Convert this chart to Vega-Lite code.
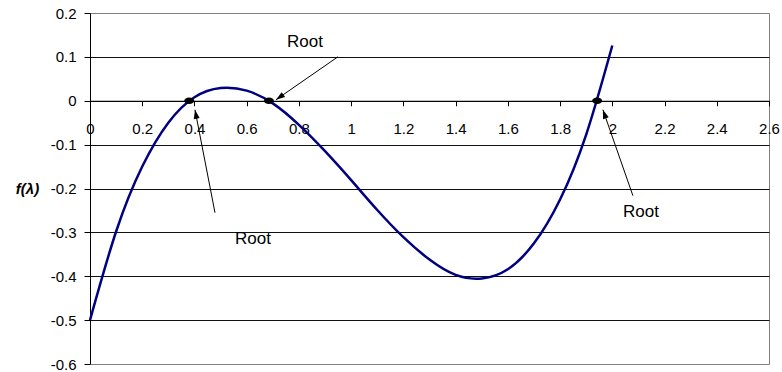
{
  "$schema": "https://vega.github.io/schema/vega-lite/v6.json",
  "width": 679,
  "height": 351,
  "autosize": {"type": "none"},
  "padding": {"left": 90, "top": 13, "right": 13, "bottom": 8},
  "background": "white",
  "config": {
    "view": {"stroke": "#808080", "strokeWidth": 1},
    "font": "Liberation Sans",
    "axis": {"labelFont": "Liberation Sans", "labelColor": "#000", "titleFont": "Liberation Sans", "titleColor": "#000"}
  },
  "datasets": {
    "curve": [
      {"lambda": 0.0, "f": -0.5},
      {"lambda": 0.1, "f": -0.298},
      {"lambda": 0.2, "f": -0.150},
      {"lambda": 0.3, "f": -0.050},
      {"lambda": 0.4, "f": 0.008},
      {"lambda": 0.5, "f": 0.029},
      {"lambda": 0.6, "f": 0.023},
      {"lambda": 0.7, "f": -0.006},
      {"lambda": 0.8, "f": -0.055},
      {"lambda": 0.9, "f": -0.115},
      {"lambda": 1.0, "f": -0.181},
      {"lambda": 1.1, "f": -0.249},
      {"lambda": 1.2, "f": -0.311},
      {"lambda": 1.3, "f": -0.362},
      {"lambda": 1.4, "f": -0.397},
      {"lambda": 1.5, "f": -0.405},
      {"lambda": 1.6, "f": -0.384},
      {"lambda": 1.7, "f": -0.325},
      {"lambda": 1.8, "f": -0.225},
      {"lambda": 1.9, "f": -0.077},
      {"lambda": 2.0, "f": 0.126}
    ],
    "roots": [
      {"lambda": 0.38, "f": 0},
      {"lambda": 0.685, "f": 0},
      {"lambda": 1.942, "f": 0}
    ],
    "callouts": [
      {"id": "a", "fromX": 0.9495, "fromY": 0.1002, "tipX": 0.7121, "tipY": 0.0023, "textX": 0.823, "textY": 0.1344, "text": "Root"},
      {"id": "b", "fromX": 0.4786, "fromY": -0.2551, "tipX": 0.402, "tipY": -0.0205, "textX": 0.624, "textY": -0.3144, "text": "Root"},
      {"id": "c", "fromX": 2.0789, "fromY": -0.2164, "tipX": 1.964, "tipY": -0.0205, "textX": 2.1095, "textY": -0.2528, "text": "Root"}
    ]
  },
  "encoding": {
    "x": {
      "type": "quantitative",
      "scale": {"domain": [0, 2.6], "nice": false, "zero": false},
      "axis": {
        "title": null,
        "orient": "bottom",
        "offset": -263.25,
        "values": [0, 0.2, 0.4, 0.6, 0.8, 1, 1.2, 1.4, 1.6, 1.8, 2, 2.2, 2.4, 2.6],
        "format": "~g",
        "grid": false,
        "domainColor": "#000",
        "tickColor": "#000",
        "tickSize": 5,
        "labelPadding": 16,
        "labelFontSize": 15,
        "labelFlush": false,
        "labelOverlap": false
      }
    },
    "y": {
      "type": "quantitative",
      "scale": {"domain": [-0.6, 0.2], "nice": false, "zero": false},
      "axis": {
        "title": "f(λ)",
        "values": [-0.6, -0.5, -0.4, -0.3, -0.2, -0.1, 0, 0.1, 0.2],
        "labelExpr": "replace(format(datum.value, '~g'), '−', '-')",
        "grid": true,
        "gridColor": "#111",
        "gridWidth": 1,
        "gridOpacity": {"condition": {"test": "datum.value > 0.15 || datum.value < -0.55", "value": 0}, "value": 1},
        "domainColor": "#000",
        "tickColor": "#000",
        "tickSize": 6,
        "labelPadding": 8,
        "labelFontSize": 15,
        "labelFlush": false,
        "labelOverlap": false,
        "titleAngle": 0,
        "titleAlign": "center",
        "titleBaseline": "middle",
        "titleX": -63,
        "titleY": 175,
        "titleFontSize": 15,
        "titleFontWeight": "bold",
        "titleFontStyle": "italic"
      }
    }
  },
  "layer": [
    {
      "data": {"name": "curve"},
      "mark": {"type": "line", "color": "#000080", "strokeWidth": 2.5, "interpolate": "natural"},
      "encoding": {"x": {"field": "lambda"}, "y": {"field": "f"}}
    },
    {
      "data": {"name": "callouts"},
      "mark": {"type": "rule", "color": "#000", "strokeWidth": 1},
      "encoding": {
        "x": {"field": "fromX"}, "y": {"field": "fromY"},
        "x2": {"field": "tipX"}, "y2": {"field": "tipY"}
      }
    },
    {
      "data": {"name": "callouts"},
      "transform": [{"filter": "datum.id === 'a'"}],
      "mark": {"type": "point", "shape": "M0,0 L1.5,4.5 L-1.5,4.5 Z", "filled": true, "color": "#000", "opacity": 1, "size": 16, "angle": 235.3},
      "encoding": {"x": {"field": "tipX"}, "y": {"field": "tipY"}}
    },
    {
      "data": {"name": "callouts"},
      "transform": [{"filter": "datum.id === 'b'"}],
      "mark": {"type": "point", "shape": "M0,0 L1.5,4.5 L-1.5,4.5 Z", "filled": true, "color": "#000", "opacity": 1, "size": 16, "angle": 349},
      "encoding": {"x": {"field": "tipX"}, "y": {"field": "tipY"}}
    },
    {
      "data": {"name": "callouts"},
      "transform": [{"filter": "datum.id === 'c'"}],
      "mark": {"type": "point", "shape": "M0,0 L1.5,4.5 L-1.5,4.5 Z", "filled": true, "color": "#000", "opacity": 1, "size": 16, "angle": 340.8},
      "encoding": {"x": {"field": "tipX"}, "y": {"field": "tipY"}}
    },
    {
      "data": {"name": "roots"},
      "mark": {"type": "point", "shape": "M-1,0 A1,0.65,0,1,0,1,0 A1,0.65,0,1,0,-1,0 Z", "filled": true, "color": "#000", "opacity": 1, "size": 100},
      "encoding": {"x": {"field": "lambda"}, "y": {"field": "f"}}
    },
    {
      "data": {"name": "callouts"},
      "mark": {"type": "text", "font": "Liberation Sans", "fontSize": 17, "color": "#000", "align": "center", "baseline": "middle"},
      "encoding": {"x": {"field": "textX"}, "y": {"field": "textY"}, "text": {"field": "text"}}
    }
  ]
}
